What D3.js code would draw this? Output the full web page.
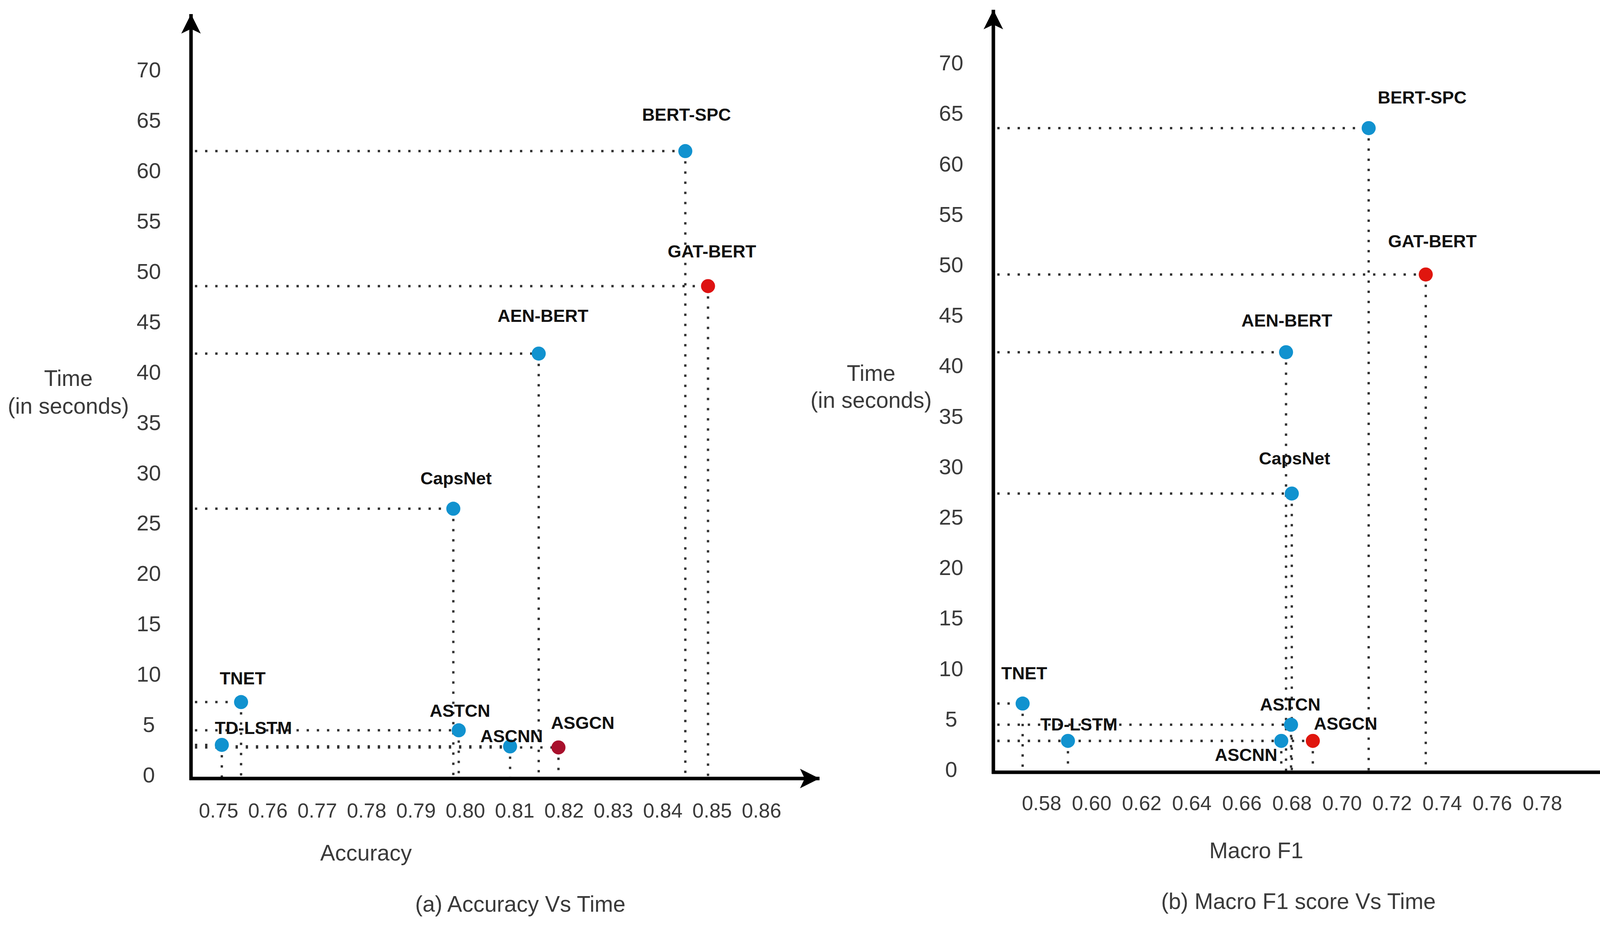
<!DOCTYPE html>
<html>
<head>
<meta charset="utf-8">
<script src="https://cdn.jsdelivr.net/npm/d3@7"></script>
<style>
  body { margin: 0; background: #fff; }
  text { font-family: "Liberation Sans", Arial, sans-serif; }
</style>
</head>
<body>
<div id="chart"></div>
<script>
// models and their scores
var names    = ["TD-LSTM", "TNET", "CapsNet", "ASTCN", "ASCNN", "ASGCN", "AEN-BERT", "BERT-SPC", "GAT-BERT"];
var accuracy = [0.7507, 0.7546, 0.7976, 0.7987, 0.8091, 0.8189, 0.8149, 0.8446, 0.8492];
var timeAcc  = [2.95, 7.2, 26.4, 4.4, 2.8, 2.7, 41.8, 61.9, 48.5];
var macroF1  = [0.5906, 0.5725, 0.680, 0.6797, 0.6758, 0.6884, 0.6777, 0.7107, 0.7335];
var timeF1   = [2.8, 6.5, 27.3, 4.4, 2.8, 2.8, 41.3, 63.5, 49.0];

var timeTicks = [0, 5, 10, 15, 20, 25, 30, 35, 40, 45, 50, 55, 60, 65, 70];
var accTicks  = [0.75, 0.76, 0.77, 0.78, 0.79, 0.80, 0.81, 0.82, 0.83, 0.84, 0.85, 0.86];
var f1Ticks   = [0.58, 0.60, 0.62, 0.64, 0.66, 0.68, 0.70, 0.72, 0.74, 0.76, 0.78];

var W = 4208, H = 2368;
var blue = "#1192cf";

var svg = d3.select("#chart")
  .append("svg")
  .attr("width", W)
  .attr("height", H);

svg.append("rect").attr("width", W).attr("height", H).attr("fill", "#fff");

// arrow head for the axes
svg.append("defs").append("marker")
  .attr("id", "arrow")
  .attr("markerUnits", "userSpaceOnUse")
  .attr("viewBox", "-50 -26 52 52")
  .attr("refX", 0).attr("refY", 0)
  .attr("markerWidth", 52).attr("markerHeight", 52)
  .attr("orient", "auto")
  .append("path")
  .attr("d", "M0,0 L-50,-25 L-38,0 L-50,25 Z")
  .attr("fill", "#000");

// one panel
function drawPanel(cfg) {
  var x = d3.scaleLinear().domain(cfg.xDomain).range(cfg.xRange);
  var y = d3.scaleLinear().domain([0, 70]).range(cfg.yRange);

  var pts = names.map(function(n, i) {
    return {name: n, xv: cfg.xs[i], t: cfg.ts[i]};
  });

  var g = svg.append("g");

  // dotted guide lines
  var guides = g.append("g")
    .attr("stroke", "#333")
    .attr("stroke-width", 6)
    .attr("stroke-dasharray", "6 20");
  guides.selectAll(".h").data(pts).enter().append("line")
    .attr("x1", cfg.ox + 10)
    .attr("x2", function(d) { return x(d.xv); })
    .attr("y1", function(d) { return y(d.t); })
    .attr("y2", function(d) { return y(d.t); });
  guides.selectAll(".v").data(pts).enter().append("line")
    .attr("x1", function(d) { return x(d.xv); })
    .attr("x2", function(d) { return x(d.xv); })
    .attr("y1", function(d) { return y(d.t); })
    .attr("y2", cfg.oy);

  // axis lines with arrows
  g.append("line")
    .attr("x1", cfg.ox).attr("y1", cfg.oy + 4)
    .attr("x2", cfg.ox).attr("y2", cfg.yTip)
    .attr("stroke", "#000").attr("stroke-width", 9)
    .attr("marker-end", "url(#arrow)");
  g.append("line")
    .attr("x1", cfg.ox - 4).attr("y1", cfg.oy)
    .attr("x2", cfg.xTip).attr("y2", cfg.oy)
    .attr("stroke", "#000").attr("stroke-width", 9)
    .attr("marker-end", "url(#arrow)");

  // points
  g.selectAll("circle").data(pts).enter().append("circle")
    .attr("cx", function(d) { return x(d.xv); })
    .attr("cy", function(d) { return y(d.t); })
    .attr("r", 18)
    .attr("fill", function(d) { return cfg.colors[d.name] || blue; });

  // point labels
  g.selectAll(".lbl").data(pts).enter().append("text")
    .attr("x", function(d) { return x(d.xv) + cfg.offsets[d.name][0]; })
    .attr("y", function(d) { return y(d.t) + cfg.offsets[d.name][1]; })
    .attr("text-anchor", "middle")
    .attr("dominant-baseline", "central")
    .attr("font-size", 45)
    .attr("font-weight", "bold")
    .attr("fill", "#111")
    .text(function(d) { return d.name; });

  // y tick labels
  var ya = g.append("g")
    .attr("transform", "translate(" + cfg.ox + ",0)")
    .call(d3.axisLeft(y).tickValues(timeTicks).tickSize(0));
  ya.select(".domain").remove();
  ya.selectAll("text")
    .attr("x", -108).attr("dy", "0.35em")
    .attr("text-anchor", "middle")
    .attr("font-size", 56)
    .attr("font-family", "Liberation Sans, Arial, sans-serif")
    .attr("fill", "#3a3a3a");

  // x tick labels
  var xa = g.append("g")
    .attr("transform", "translate(0," + cfg.xLabelY + ")")
    .call(d3.axisBottom(x).tickValues(cfg.xTicks).tickSize(0).tickFormat(d3.format(".2f")));
  xa.select(".domain").remove();
  xa.selectAll("text")
    .attr("y", 0).attr("dy", "0.35em")
    .attr("font-size", 52)
    .attr("font-family", "Liberation Sans, Arial, sans-serif")
    .attr("fill", "#3a3a3a");

  // titles
  g.append("text").attr("x", cfg.tx).attr("y", cfg.ty1)
    .attr("text-anchor", "middle").attr("dominant-baseline", "central")
    .attr("font-size", 57).attr("fill", "#3a3a3a").text("Time");
  g.append("text").attr("x", cfg.tx).attr("y", cfg.ty2)
    .attr("text-anchor", "middle").attr("dominant-baseline", "central")
    .attr("font-size", 57).attr("fill", "#3a3a3a").text("(in seconds)");
  g.append("text").attr("x", cfg.xtX).attr("y", cfg.xtY)
    .attr("text-anchor", "middle").attr("dominant-baseline", "central")
    .attr("font-size", 57).attr("fill", "#3a3a3a").text(cfg.xTitle);
  g.append("text").attr("x", cfg.capX).attr("y", cfg.capY)
    .attr("text-anchor", "middle").attr("dominant-baseline", "central")
    .attr("font-size", 57).attr("fill", "#3a3a3a").text(cfg.caption);
}

drawPanel({
  xs: accuracy, ts: timeAcc,
  xDomain: [0.75, 0.86], xRange: [559, 1949], xTicks: accTicks,
  yRange: [1983, 178],
  ox: 489, oy: 1993, yTip: 36, xTip: 2098, xLabelY: 2075,
  colors: {"ASGCN": "#a8102c", "GAT-BERT": "#de1212"},
  offsets: {"TD-LSTM": [81, -43], "TNET": [4, -61], "CapsNet": [7, -78], "ASTCN": [3, -50],
            "ASCNN": [4, -26], "ASGCN": [62, -63], "AEN-BERT": [11, -97], "BERT-SPC": [3, -93],
            "GAT-BERT": [10, -89]},
  tx: 175, ty1: 968, ty2: 1039,
  xTitle: "Accuracy", xtX: 937, xtY: 2183,
  caption: "(a) Accuracy Vs Time", capX: 1332, capY: 2314
});

drawPanel({
  xs: macroF1, ts: timeF1,
  xDomain: [0.58, 0.78], xRange: [2666, 3948], xTicks: f1Ticks,
  yRange: [1969, 160],
  ox: 2543, oy: 1977, yTip: 25, xTip: 4174, xLabelY: 2056,
  colors: {"ASGCN": "#e0160e", "GAT-BERT": "#e0160e"},
  offsets: {"TD-LSTM": [28, -42], "TNET": [4, -78], "CapsNet": [7, -90], "ASTCN": [-2, -52],
            "ASCNN": [-90, 36], "ASGCN": [84, -44], "AEN-BERT": [2, -81], "BERT-SPC": [137, -78],
            "GAT-BERT": [17, -85]},
  tx: 2230, ty1: 955, ty2: 1024,
  xTitle: "Macro F1", xtX: 3216, xtY: 2177,
  caption: "(b) Macro F1 score Vs Time", capX: 3324, capY: 2307
});
</script>
</body>
</html>
